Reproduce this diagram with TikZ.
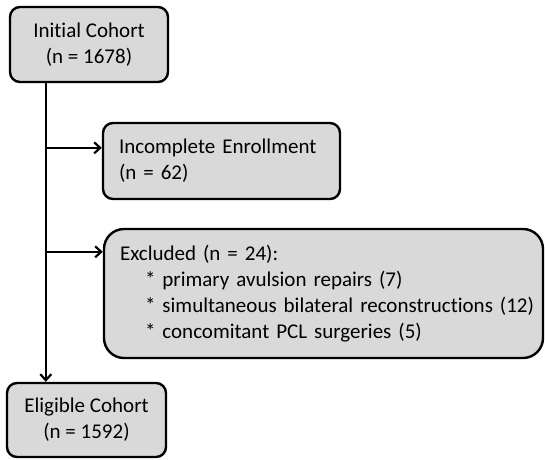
\documentclass[tikz,border=0pt]{standalone}
\usepackage{fontspec}
\setmainfont{Carlito}[Ligatures={NoCommon}]
\usepackage{tikz}
\usetikzlibrary{calc,arrows.meta}
\definecolor{boxgray}{HTML}{D9D9D9}

\tikzset{
  stagebox/.style={draw, line width=2.4pt, fill=boxgray, rounded corners=10pt,
    inner sep=0pt, font=\fontsize{21}{26}\selectfont},
  flowarrow/.style={line width=2.4pt, -{Straight Barb[length=6pt,width=11pt,line width=2.2pt]}}
}

\begin{document}
\begin{tikzpicture}[x=1pt, y=-1pt]
            \useasboundingbox (0,0) rectangle (545,459);
            \node[stagebox, minimum width=158pt, minimum height=75pt, align=center] (init) at (89,44.5) {Initial Cohort\\(n = 1678)};
            \node[stagebox, minimum width=237pt, minimum height=76pt, text width=205pt, align=left] (incomplete) at (221.5,161) {Incomplete Enrollment\\(n = 62)};
            \node[stagebox, rounded corners=20pt, minimum width=439pt, minimum height=129pt, text width=407pt, align=left] (excluded) at (323.5,293.5) {Excluded (n = 24):\\
              \mbox{\hspace*{25pt}* primary avulsion repairs (7)}\\
              \mbox{\hspace*{25pt}* simultaneous bilateral reconstructions (12)}\\
              \mbox{\hspace*{25pt}* concomitant PCL surgeries (5)}};
            \node[stagebox, minimum width=159pt, minimum height=74pt, align=center] (eligible) at (86.5,420) {Eligible Cohort\\(n = 1592)};
            \coordinate (trunk) at ($(init.south west)+(37,0)$);
            \coordinate (incin) at ($(incomplete.north west)+(0,26)$);
            \coordinate (excin) at ($(excluded.north west)+(0,24)$);
            \draw[flowarrow] (trunk) -- (trunk |- eligible.north);
            \draw[flowarrow] (trunk |- incin) -- (incin);
            \draw[flowarrow] (trunk |- excin) -- (excin);
        \end{tikzpicture}
\end{document}
